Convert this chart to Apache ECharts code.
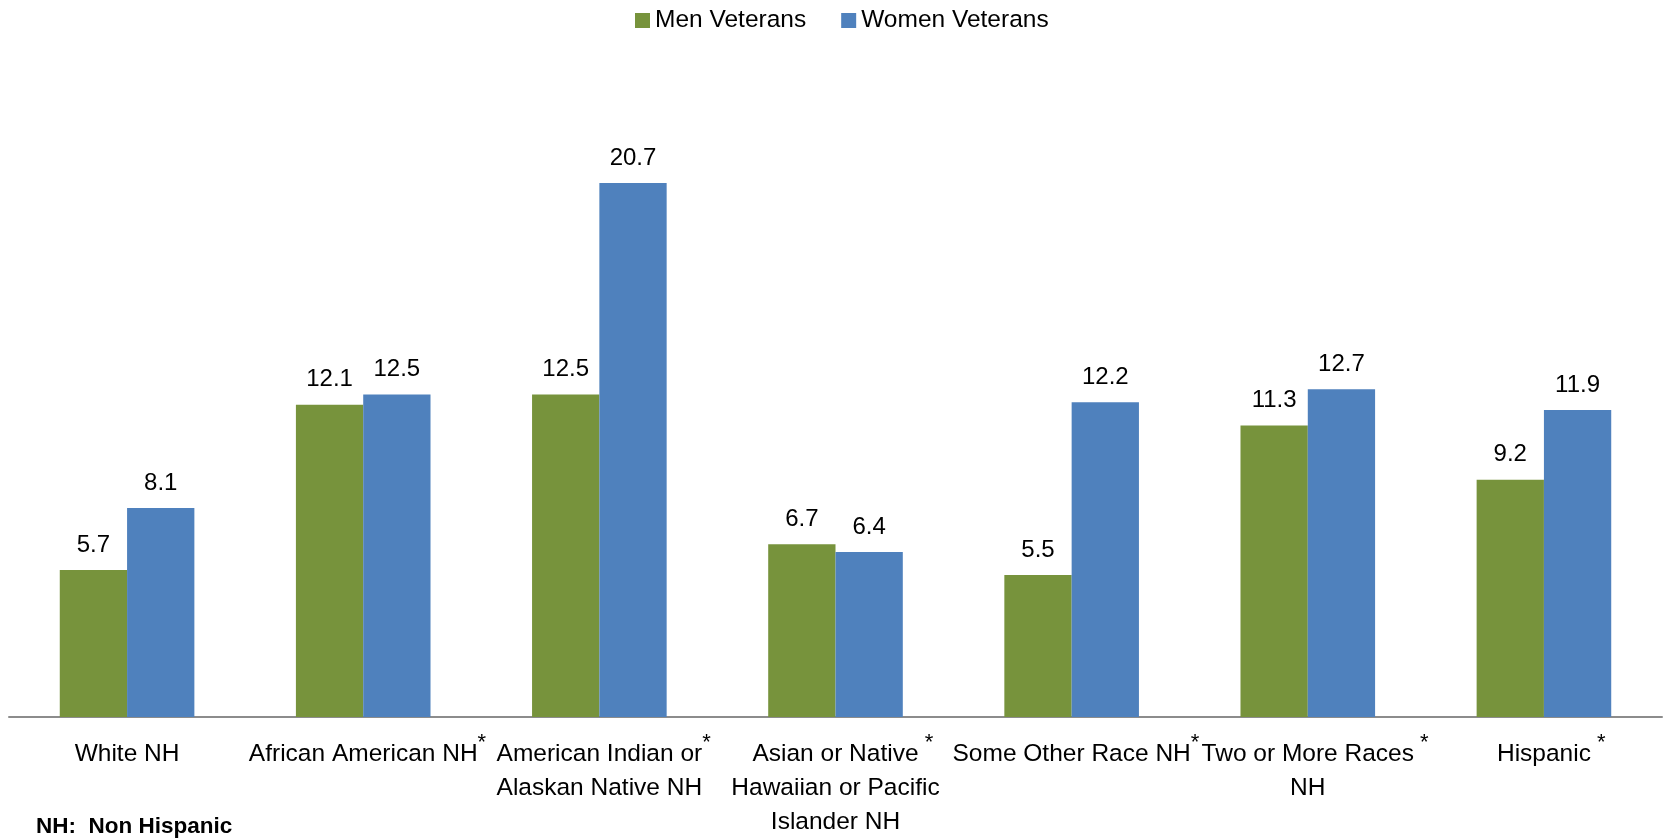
<!DOCTYPE html>
<html>
<head>
<meta charset="utf-8">
<script src="https://cdn.jsdelivr.net/npm/echarts@6/dist/echarts.min.js"></script>
<style>
  html, body { margin: 0; padding: 0; background: #fff; }
  #chart { width: 1667px; height: 839px; }
</style>
</head>
<body>
<div id="chart"></div>
<script>
// ---- data ----
var categories = [
  'White NH',
  'African American NH',
  'American Indian or\nAlaskan Native NH',
  'Asian or Native\nHawaiian or Pacific\nIslander NH',
  'Some Other Race NH',
  'Two or More Races\nNH',
  'Hispanic'
];
// significance markers appended to first line of each category label
var markers = ['', '*', '*', ' *', '*', ' *', ' *'];
var seriesNames = ['Men Veterans', 'Women Veterans'];
var menValues = [5.7, 12.1, 12.5, 6.7, 5.5, 11.3, 9.2];
var womenValues = [8.1, 12.5, 20.7, 6.4, 12.2, 12.7, 11.9];
var footnote = 'NH:  Non Hispanic';

var FONT = '"Liberation Sans", Arial, sans-serif';
var GREEN = '#77933C';
var BLUE = '#4F81BD';

var chart = echarts.init(document.getElementById('chart'), null, { renderer: 'canvas' });

function labelFormatter(value, idx) {
  var lines = value.split('\n');
  var m = markers[idx];
  if (m) {
    lines[0] = '{pad|' + m + '}' + lines[0] + '{sup|' + m + '}';
  }
  return lines.join('\n');
}

var option = {
  backgroundColor: '#ffffff',
  animation: false,
  textStyle: { fontFamily: FONT },
  legend: {
    data: seriesNames,
    top: 3,
    left: 630,
    itemWidth: 15,
    itemHeight: 15,
    itemGap: 35,
    icon: 'rect',
    textStyle: { fontFamily: FONT, fontSize: 24.5, color: '#000' }
  },
  grid: { left: 9, right: 5, top: 72, bottom: 121, containLabel: false },
  xAxis: {
    type: 'category',
    data: categories,
    axisLine: { show: true, lineStyle: { color: '#8c8c8c', width: 2 } },
    axisTick: { show: false },
    axisLabel: {
      interval: 0,
      margin: 20,
      fontFamily: FONT,
      fontSize: 24.5,
      lineHeight: 34,
      color: '#000',
      formatter: labelFormatter,
      rich: {
        pad: { fontFamily: FONT, fontSize: 22, color: 'rgba(0,0,0,0)', padding: [-5, 0, 0, 0], verticalAlign: 'top' },
        sup: { fontFamily: FONT, fontSize: 22, color: '#000', padding: [-5, 0, 0, 0], verticalAlign: 'top' }
      }
    }
  },
  yAxis: {
    type: 'value',
    min: 0,
    max: 25,
    show: false,
    splitLine: { show: false }
  },
  series: [
    {
      name: seriesNames[0],
      type: 'bar',
      data: menValues,
      barGap: '0%',
      barCategoryGap: '43%',
      itemStyle: { color: GREEN },
      label: {
        show: true, position: 'top', distance: 13,
        fontFamily: FONT, fontSize: 24, color: '#000',
        formatter: function (p) { return p.value.toFixed(1); }
      }
    },
    {
      name: seriesNames[1],
      type: 'bar',
      data: womenValues,
      barGap: '0%',
      barCategoryGap: '43%',
      itemStyle: { color: BLUE },
      label: {
        show: true, position: 'top', distance: 13,
        fontFamily: FONT, fontSize: 24, color: '#000',
        formatter: function (p) { return p.value.toFixed(1); }
      }
    }
  ],
  graphic: [
    {
      type: 'text',
      left: 36,
      top: 815,
      style: {
        text: footnote,
        font: 'bold 22.5px ' + FONT,
        fill: '#000'
      }
    }
  ]
};
chart.setOption(option);
</script>
</body>
</html>
